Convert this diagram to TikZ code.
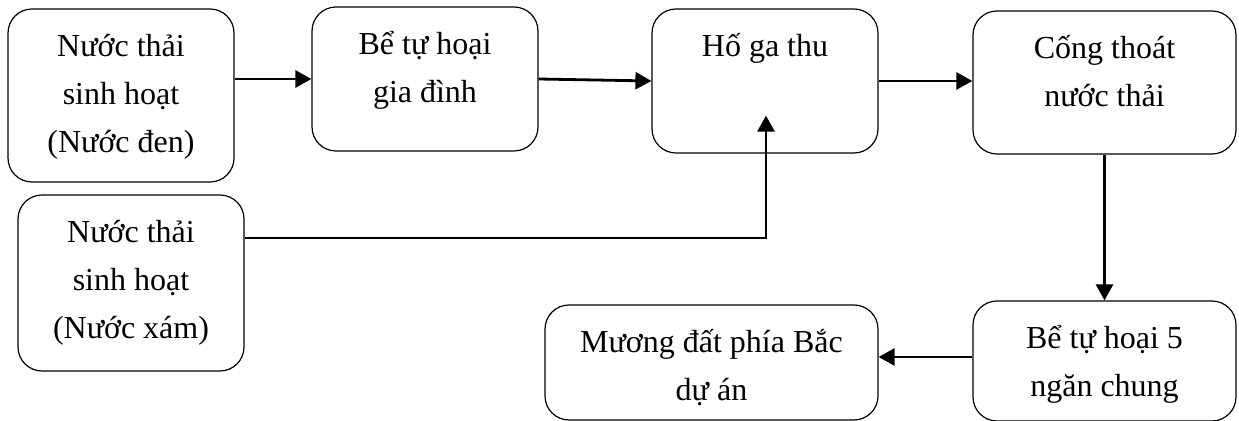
\documentclass[tikz,border=0pt]{standalone}
\usepackage{fontspec}
\setmainfont{Liberation Serif}
\usepackage{tikz}
\usetikzlibrary{arrows.meta}
\usetikzlibrary{calc}

\newcommand{\boxtxt}[3]{\parbox[c][#2][t]{#1}{\centering\rule{0pt}{24pt}#3}}

\begin{document}
\begin{tikzpicture}[x=0.5pt,y=-0.5pt,>={Triangle[length=8pt,width=8.5pt]}]
\tikzset{boks/.style={draw=black,line width=0.6pt,rounded corners=12pt,inner sep=0pt,
  font=\fontsize{16}{24}\selectfont}}
\tikzset{flow/.style={->,line width=1.4pt}}

   \useasboundingbox (0,0) rectangle (1239,421);

   % top row
   \node[boks] (n1) at (121,95.5) {\boxtxt{113pt}{86.5pt}{Nước thải\\sinh hoạt\\(Nước đen)}};
   \node[boks] (n2) at (425,79)   {\boxtxt{113pt}{72pt}{Bể tự hoại\\gia đình}};
   \node[boks] (n3) at (765,81)   {\boxtxt{113pt}{72pt}{Hố ga thu}};
   \node[boks] (n4) at (1104.5,82.5) {\boxtxt{131.5pt}{71.5pt}{Cống thoát\\nước thải}};

   % bottom row
   \node[boks] (n5) at (131,283)  {\boxtxt{113pt}{88pt}{Nước thải\\sinh hoạt\\(Nước xám)}};
   \node[boks] (n6) at (711.5,362.5) {\boxtxt{166.5pt}{57.5pt}{Mương đất phía Bắc\\dự án}};
   \node[boks] (n7) at (1104.5,361) {\boxtxt{131.5pt}{60pt}{Bể tự hoại 5\\ngăn chung}};

   \coordinate (tip) at ($(n3.south)+(1,-38)$);

   \draw[flow] (n1.east |- n2.west) -- (n2.west);
   \draw[flow] (n2.east) -- (n3.west);
   \draw[flow] (n3.east) -- (n3.east -| n4.west);
   \draw[flow] (n4.south) -- (n7.north);
   \draw[flow] ($(n7.west)+(0,-4)$) -- ($(n7.west -| n6.east)+(0,-4)$);
   \draw[flow] ($(n5.east)+(0,-45)$) -| (tip);
\end{tikzpicture}
\end{document}
